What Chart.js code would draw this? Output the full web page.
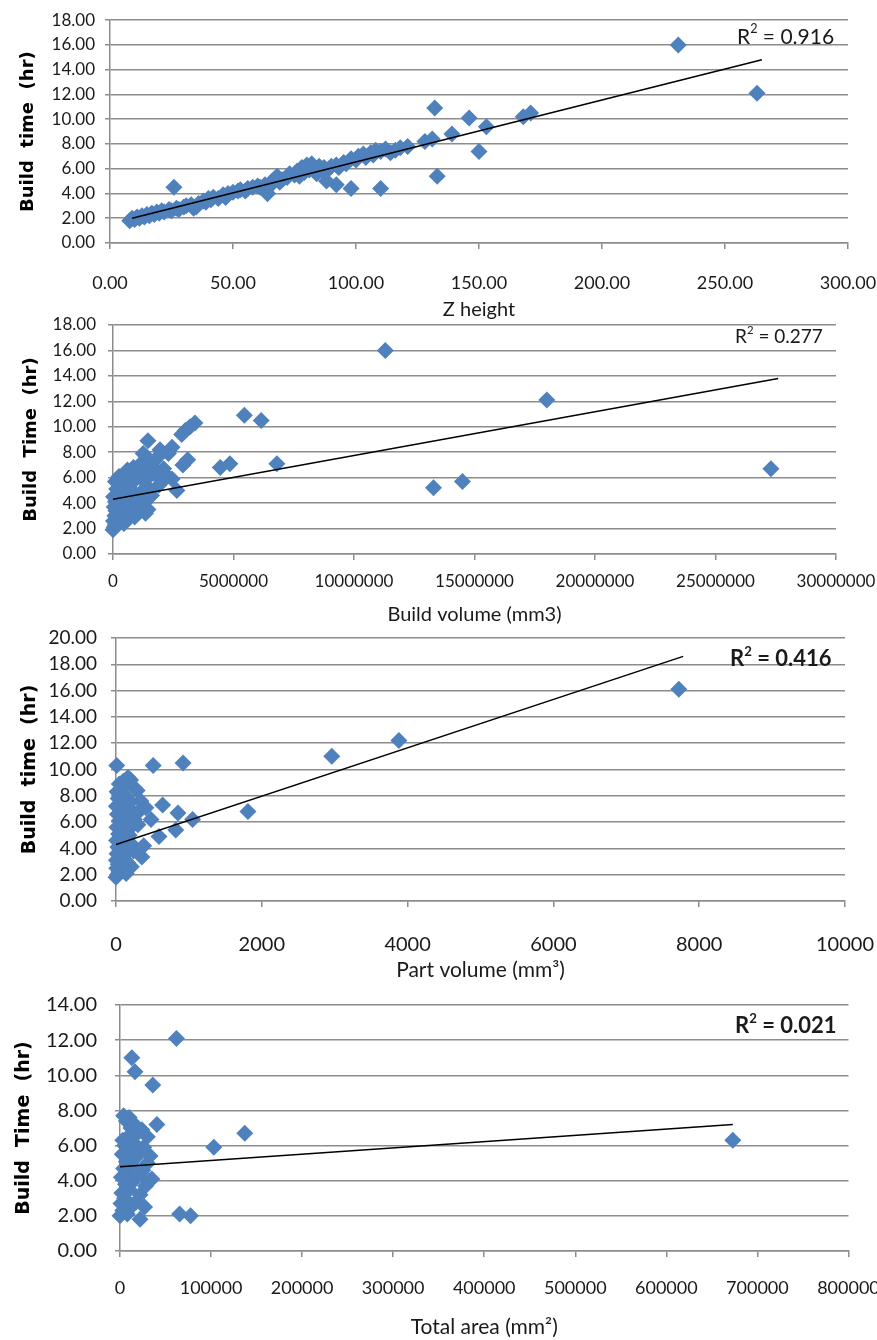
<!DOCTYPE html>
<html>
<head>
<meta charset="utf-8">
<title>Build time vs. part parameters</title>
<script src="https://cdn.jsdelivr.net/npm/chart.js@4.4.0/dist/chart.umd.min.js"></script>
<style>
  html, body { margin: 0; padding: 0; background: #fff; overflow: hidden; }
  body { width: 877px; height: 1340px; position: relative; }
  canvas { position: absolute; left: 0; }
  .r2 { position: absolute; font-family: Lato, sans-serif; color: #1a1a1a; white-space: nowrap; line-height: 1; transform: translateY(-50%); }
  .r2 sup { font-size: 0.6em; position: relative; top: -0.15em; vertical-align: top; }
</style>
</head>
<body>
<canvas id="chart1"></canvas>
<canvas id="chart2"></canvas>
<canvas id="chart3"></canvas>
<canvas id="chart4"></canvas>
<div class="r2" style="left:737px; top:35px; font-size:21px;">R<sup>2</sup> = 0.916</div>
<div class="r2" style="left:735px; top:335px; font-size:19px;">R<sup>2</sup> = 0.277</div>
<div class="r2" style="left:730px; top:658px; font-size:22px; font-weight:bold;">R<sup>2</sup> = 0.416</div>
<div class="r2" style="left:735px; top:1025px; font-size:22px; font-weight:bold;">R<sup>2</sup> = 0.021</div>
<script>
// Z height (mm) vs build time (hr)
const zHeight = [8,9,10,11,12,13,14,15,16,17,18,19,20,21,22,24,25,27,28,30,31,33,34,36,38,39,40,41,42,44,46,47,48,50,52,53,55,56,58,60,61,63,64,65,66,67,68,69,70,72,73,75,76,77,78,79,80,81,82,83,84,85,86,87,89,90,92,93,95,96,98,100,101,103,104,106,107,108,110,112,114,116,118,
  26,35,47,64,88,92,98,110,121,128,131,132,133,139,146,150,153,168,171,231,263];
const zTime = [1.8,2.0,1.9,2.1,2.0,2.2,2.1,2.3,2.2,2.4,2.3,2.5,2.4,2.6,2.5,2.7,2.6,2.8,2.7,2.9,3.0,3.1,2.8,3.2,3.4,3.3,3.6,3.5,3.7,3.6,3.9,3.7,4.0,4.1,4.2,4.3,4.2,4.4,4.5,4.6,4.5,4.7,4.0,4.6,5.0,5.2,5.4,4.9,5.1,5.3,5.6,5.5,5.8,5.4,6.1,5.7,6.3,5.9,6.4,6.0,5.6,6.2,5.9,6.1,6.0,6.2,6.3,6.1,6.5,6.4,6.8,6.7,7.0,7.2,6.9,7.3,7.1,7.5,7.4,7.6,7.3,7.5,7.7,
  4.5,2.9,3.7,4.0,5.0,4.7,4.4,4.4,7.8,8.2,8.4,10.9,5.4,8.8,10.1,7.4,9.4,10.2,10.5,16.0,12.1];
const zTrendX = [9, 265];
const zTrendY = [2.0, 14.8];

// Build volume (mm3) vs build time (hr)
const buildVol = [0,50000,100000,20000,150000,200000,80000,300000,120000,400000,50000,250000,500000,100000,350000,600000,20000,200000,450000,700000,150000,300000,550000,800000,100000,400000,650000,900000,250000,500000,750000,1000000,600000,850000,1100000,1200000,1300000,1400000,1500000,1600000,1700000,1800000,2000000,2100000,1150000,1050000,950000,750000,600000,450000,1600000,1400000,1250000,2200000,900000,1300000,1550000,1900000,
  11300000,18000000,27300000,13300000,14500000,5450000,6150000,6800000,4450000,4850000,3400000,3200000,3000000,2850000,3100000,2900000,2650000,2450000,1450000,1250000,1350000,1450000,1950000,1850000,2150000,2450000,2300000];
const buildVolTime = [1.9,2.1,2.3,2.6,2.5,2.8,3.0,3.1,3.4,3.3,3.7,3.9,3.6,4.1,4.3,4.0,4.5,4.7,4.9,4.5,5.1,5.4,5.2,5.0,5.7,5.9,5.6,5.8,6.1,6.3,6.2,6.4,6.6,6.8,7.0,5.9,6.5,5.3,6.1,6.9,7.3,6.4,5.8,6.7,4.8,4.2,3.7,3.2,2.7,2.4,4.6,7.6,7.2,6.0,2.9,4.0,5.0,5.4,
  16.0,12.1,6.7,5.2,5.7,10.9,10.5,7.1,6.8,7.1,10.3,10.0,9.7,9.4,7.4,7.0,5.0,8.4,8.9,7.9,3.2,3.5,8.2,7.6,6.3,5.9,7.9];
const bvTrendX = [0, 27600000];
const bvTrendY = [4.3, 13.8];

// Part volume (mm3) vs build time (hr)
const partVol = [0,20,40,10,60,30,80,5,50,100,15,70,120,25,90,150,8,60,130,200,35,110,180,12,75,140,220,45,100,170,250,20,85,150,210,5,60,125,190,30,95,160,15,70,45,100,300,270,330,380,240,160,100,210,140,
  7720,3880,2960,1810,920,510,10,1050,850,820,640,590,355,165,120,290,340,410,480,250,200];
const partVolTime = [1.8,2.0,2.2,2.5,2.4,2.8,2.6,3.1,3.3,3.0,3.6,3.8,3.5,4.1,4.3,4.0,4.6,4.8,4.6,4.4,5.1,5.3,5.0,5.6,5.8,5.5,5.7,6.1,6.3,6.0,6.2,6.6,6.8,6.5,6.9,7.2,7.4,7.1,7.5,7.8,8.0,7.8,8.3,8.5,8.9,9.1,5.8,6.6,6.9,4.2,3.8,2.9,2.3,2.6,2.1,
  16.1,12.2,11.0,6.8,10.5,10.3,10.3,6.2,6.7,5.4,7.3,4.9,3.35,9.4,8.9,8.4,7.6,7.1,6.2,8.6,9.2];
const pvTrendX = [0, 7780];
const pvTrendY = [4.3, 18.6];

// Total area (mm2) vs build time (hr)
const totalArea = [0,3000,8000,1000,12000,5000,18000,2000,10000,22000,6000,15000,28000,1500,9000,20000,32000,4000,13000,25000,7000,17000,30000,2500,11000,21000,5000,14000,26000,9000,19000,3000,12000,24000,7000,16000,10000,30000,35000,27000,33000,4000,
  62000,13000,16500,36000,40500,137000,103000,673000,65500,77500,22000];
const totalAreaTime = [2.0,2.3,2.1,2.7,2.5,3.0,2.8,3.3,3.5,3.2,3.8,4.0,3.7,4.2,4.4,4.3,4.0,4.7,4.9,4.6,5.1,5.3,5.0,5.5,5.7,5.6,6.0,6.2,5.9,6.5,6.7,6.3,7.0,6.9,7.4,7.2,7.6,6.5,4.1,2.5,5.4,7.7,
  12.1,11.0,10.2,9.45,7.2,6.7,5.9,6.3,2.1,2.0,1.8];
const taTrendX = [0, 673000];
const taTrendY = [4.8, 7.2];

const CANVAS_W = 900;
const GRID = '#8c8c8c';
const TEXT = '#1a1a1a';
const BLUE = '#4F81BD';

function pts(xs, ys) {
  return xs.map((x, i) => ({ x: x, y: ys[i] }));
}

function makeChart(id, o) {
  const canvas = document.getElementById(id);
  canvas.width = CANVAS_W;
  canvas.height = o.canvasH;
  canvas.style.top = o.canvasTop + 'px';

  const lhXTick = o.xTickSize * 1.2;
  const lhXTitle = o.xTitleSize * 1.2;
  const lhYTitle = o.yTitleSize * 1.2;
  const titleBottom = o.xTitleY + lhXTitle / 2;

  new Chart(canvas.getContext('2d'), {
    type: 'scatter',
    data: {
      datasets: [
        {
          type: 'line',
          data: pts(o.trendX, o.trendY),
          borderColor: '#000',
          borderWidth: 1.5,
          pointRadius: 0,
          showLine: true,
          order: 0
        },
        {
          data: pts(o.xs, o.ys),
          pointStyle: 'rectRot',
          pointRadius: 8.5,
          backgroundColor: BLUE,
          borderColor: BLUE,
          borderWidth: 0,
          clip: false,
          order: 1
        }
      ]
    },
    options: {
      responsive: false,
      animation: false,
      layout: {
        padding: {
          top: o.plot.t - o.canvasTop,
          left: 0,
          right: CANVAS_W - o.plot.r,
          bottom: o.canvasTop + o.canvasH - titleBottom
        }
      },
      plugins: { legend: { display: false }, tooltip: { enabled: false } },
      scales: {
        x: {
          type: 'linear',
          min: 0, max: o.xMax,
          afterFit: s => { s.height = titleBottom - o.plot.b; },
          ticks: {
            stepSize: o.xStep,
            autoSkip: false,
            maxRotation: 0,
            padding: o.xLabelY - o.plot.b - 6 - lhXTick / 2,
            color: TEXT,
            font: { family: 'Lato', size: o.xTickSize },
            callback: o.xFmt
          },
          grid: { drawOnChartArea: false, drawTicks: true, tickLength: 6, color: GRID, lineWidth: 1.5 },
          border: { display: true, color: GRID, width: 1.5 },
          title: {
            display: true,
            text: o.xTitle,
            color: TEXT,
            font: { family: 'Lato', size: o.xTitleSize },
            padding: { top: 0, bottom: 0 }
          }
        },
        y: {
          min: 0, max: o.yMax,
          afterFit: s => { s.width = o.plot.l; },
          ticks: {
            stepSize: o.yStep,
            padding: o.yTickPad,
            color: TEXT,
            font: { family: 'Lato', size: o.yTickSize },
            callback: v => v.toFixed(2)
          },
          grid: { color: GRID, lineWidth: 1.5, tickLength: 5 },
          border: { display: true, color: GRID, width: 1.5 },
          title: {
            display: true,
            text: o.yTitle,
            color: '#000',
            font: { family: 'DejaVu Sans', size: o.yTitleSize, weight: 'bold' },
            padding: { top: o.yTitleX - lhYTitle / 2, bottom: 0 }
          }
        }
      }
    }
  });
}

makeChart('chart1', {
  canvasTop: 0, canvasH: 330,
  plot: { l: 110, r: 848, t: 18, b: 243 },
  xs: zHeight, ys: zTime, trendX: zTrendX, trendY: zTrendY,
  xMax: 300, xStep: 50, yMax: 18, yStep: 2,
  xFmt: v => v.toFixed(2),
  xTickSize: 18, yTickSize: 17, yTickPad: 10,
  xLabelY: 283, xTitle: 'Z height', xTitleY: 310, xTitleSize: 20,
  yTitle: 'Build  time  (hr)', yTitleX: 28, yTitleSize: 18
});

makeChart('chart2', {
  canvasTop: 295, canvasH: 340,
  plot: { l: 113, r: 836, t: 325, b: 554 },
  xs: buildVol, ys: buildVolTime, trendX: bvTrendX, trendY: bvTrendY,
  xMax: 30000000, xStep: 5000000, yMax: 18, yStep: 2,
  xFmt: v => String(v),
  xTickSize: 17, yTickSize: 17, yTickPad: 12,
  xLabelY: 582, xTitle: 'Build volume (mm3)', xTitleY: 615, xTitleSize: 20,
  yTitle: 'Build  Time  (hr)', yTitleX: 31, yTitleSize: 18
});

makeChart('chart3', {
  canvasTop: 610, canvasH: 380,
  plot: { l: 116, r: 847, t: 638, b: 901 },
  xs: partVol, ys: partVolTime, trendX: pvTrendX, trendY: pvTrendY,
  xMax: 10000, xStep: 2000, yMax: 20, yStep: 2,
  xFmt: v => String(v),
  xTickSize: 20, yTickSize: 19, yTickPad: 14,
  xLabelY: 945, xTitle: 'Part volume (mm³)', xTitleY: 970, xTitleSize: 21,
  yTitle: 'Build  time  (hr)', yTitleX: 30, yTitleSize: 19
});

makeChart('chart4', {
  canvasTop: 975, canvasH: 365,
  plot: { l: 120, r: 851, t: 999, b: 1251 },
  xs: totalArea, ys: totalAreaTime, trendX: taTrendX, trendY: taTrendY,
  xMax: 800000, xStep: 100000, yMax: 14, yStep: 2,
  xFmt: v => String(v),
  xTickSize: 18, yTickSize: 20, yTickPad: 18,
  xLabelY: 1288, xTitle: 'Total area (mm²)', xTitleY: 1327, xTitleSize: 21,
  yTitle: 'Build  Time  (hr)', yTitleX: 24, yTitleSize: 19
});
</script>
</body>
</html>
